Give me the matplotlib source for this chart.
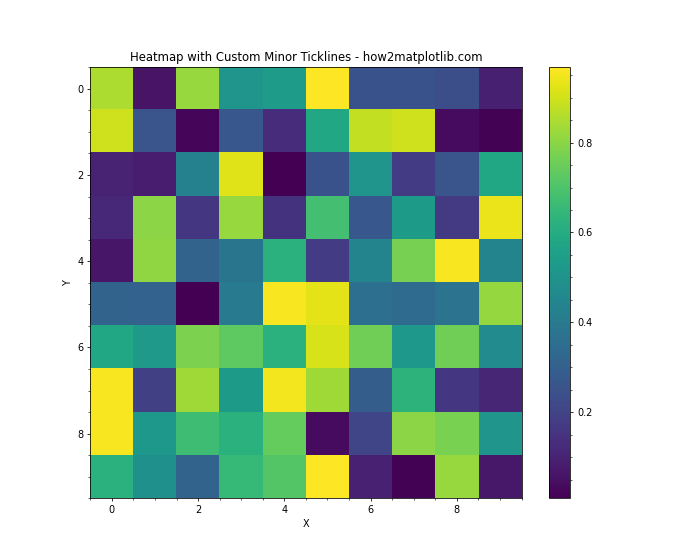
import numpy as np
import matplotlib
matplotlib.use("Agg")
import matplotlib.pyplot as plt
from matplotlib.ticker import MultipleLocator

# cell values (rows top to bottom)
row0 = [0.85, 0.06, 0.82, 0.51, 0.54, 0.968, 0.25, 0.25, 0.24, 0.094]
row1 = [0.90, 0.26, 0.02, 0.27, 0.13, 0.58, 0.88, 0.90, 0.037, 0.012]
row2 = [0.10, 0.085, 0.43, 0.92, 0.008, 0.25, 0.51, 0.18, 0.26, 0.58]
row3 = [0.12, 0.80, 0.16, 0.82, 0.15, 0.68, 0.27, 0.53, 0.17, 0.94]
row4 = [0.066, 0.81, 0.315, 0.38, 0.62, 0.18, 0.44, 0.77, 0.96, 0.44]
row5 = [0.315, 0.31, 0.01, 0.40, 0.96, 0.93, 0.36, 0.345, 0.375, 0.815]
row6 = [0.585, 0.525, 0.78, 0.73, 0.62, 0.91, 0.76, 0.52, 0.76, 0.47]
row7 = [0.96, 0.19, 0.83, 0.53, 0.95, 0.83, 0.29, 0.63, 0.16, 0.11]
row8 = [0.96, 0.52, 0.67, 0.62, 0.74, 0.035, 0.21, 0.80, 0.775, 0.51]
row9 = [0.62, 0.49, 0.315, 0.65, 0.71, 0.968, 0.095, 0.013, 0.82, 0.07]

data = np.array([row0, row1, row2, row3, row4, row5, row6, row7, row8, row9])

fig, ax = plt.subplots(figsize=(10, 8), dpi=70)
im = ax.imshow(data, cmap="viridis")
cbar = plt.colorbar(im)
cbar.minorticks_on()

ax.xaxis.set_minor_locator(MultipleLocator(0.5))
ax.yaxis.set_minor_locator(MultipleLocator(0.5))

ax.set_title("Heatmap with Custom Minor Ticklines - how2matplotlib.com")
ax.set_xlabel("X")
ax.set_ylabel("Y")

fig.savefig("out.png", dpi=70)
